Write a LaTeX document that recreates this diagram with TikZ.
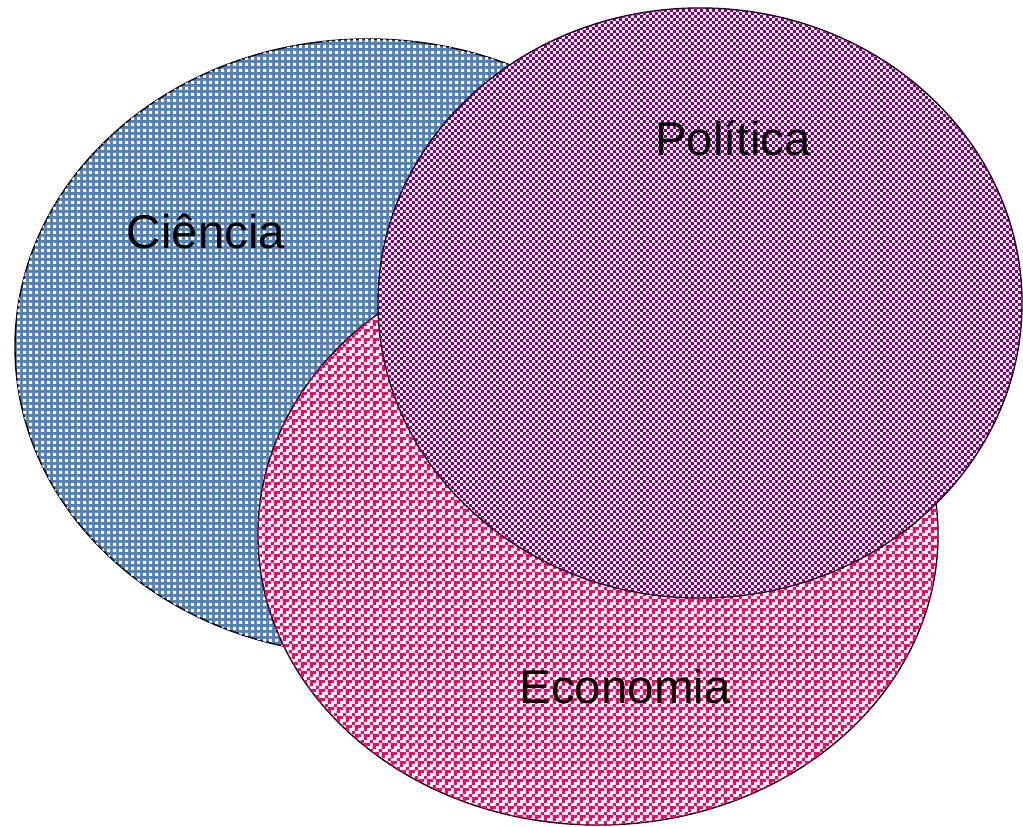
\documentclass[tikz,border=0pt]{standalone}
\usepackage{fontspec}
\setmainfont{Liberation Sans}
\usepackage{xcolor}
\usepackage{tikz}
\usetikzlibrary{patterns}
\definecolor{VennBlue}{HTML}{4F81BD}
\definecolor{VennPurple}{HTML}{800080}
\definecolor{VennPink}{HTML}{FF0066}
\definecolor{VennInk}{HTML}{000000}
\pgfdeclarepatternformonly{vennchecker}{\pgfpointorigin}{\pgfpoint{3.4pt}{3.4pt}}{\pgfpoint{3.4pt}{3.4pt}}{
  \pgfpathrectangle{\pgfpointorigin}{\pgfpoint{1.7pt}{1.7pt}}
  \pgfpathrectangle{\pgfpoint{1.7pt}{1.7pt}}{\pgfpoint{1.7pt}{1.7pt}}
  \pgfusepath{fill}}
\pgfdeclarepatternformonly{venndots}{\pgfpointorigin}{\pgfpoint{3.4pt}{3.4pt}}{\pgfpoint{3.4pt}{3.4pt}}{
  \pgfpathrectangle{\pgfpointorigin}{\pgfpoint{1.8pt}{1.8pt}}
  \pgfusepath{fill}}
\pgfdeclarepatternformonly{vennweave}{\pgfpointorigin}{\pgfpoint{5.1pt}{5.1pt}}{\pgfpoint{5.1pt}{5.1pt}}{
  \pgfpathrectangle{\pgfpointorigin}{\pgfpoint{1.7pt}{1.7pt}}
  \pgfpathrectangle{\pgfpoint{1.7pt}{1.7pt}}{\pgfpoint{1.7pt}{1.7pt}}
  \pgfpathrectangle{\pgfpoint{3.4pt}{3.4pt}}{\pgfpoint{1.7pt}{1.7pt}}
  \pgfpathrectangle{\pgfpoint{3.4pt}{0pt}}{\pgfpoint{1.7pt}{1.7pt}}
  \pgfusepath{fill}}

\begin{document}
\begin{tikzpicture}[x=0.02cm, y=-0.02cm,
  setrim/.style={draw=VennInk, line width=0.8pt},
  setblue/.style={setrim, fill=VennBlue, postaction={pattern=venndots, pattern color=white}},
  setpink/.style={setrim, fill=white, postaction={pattern=vennweave, pattern color=VennPink}},
  setpurple/.style={setrim, fill=white, postaction={pattern=vennchecker, pattern color=VennPurple}},
  setlabel/.style={font=\fontsize{27}{32}\selectfont, text=VennInk, anchor=base, inner sep=0pt}]
\useasboundingbox (0,0) rectangle (1023,827);
\draw[setblue] (368,347) ellipse [x radius=353, y radius=308];
\draw[setpink] (598,535) ellipse [x radius=340, y radius=290];
\draw[setpurple] (700,303) ellipse [x radius=322, y radius=295];
\node[setlabel] (ciencia) at (206,249) {Ciência};
\node[setlabel] (politica) at (733,156) {Política};
\node[setlabel] (economia) at (625,703) {Economia};
\end{tikzpicture}
\end{document}
